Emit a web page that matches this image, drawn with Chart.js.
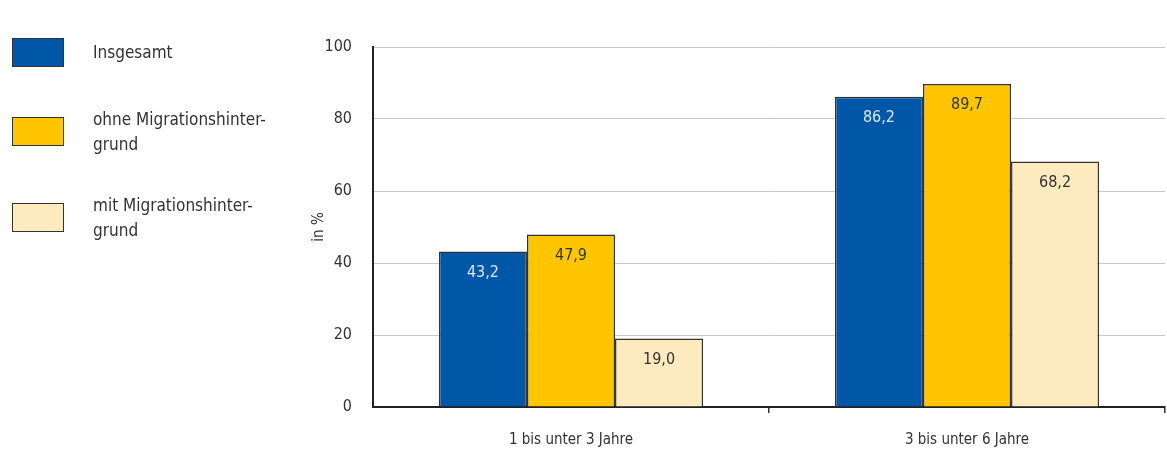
<!DOCTYPE html>
<html lang="de">
<head>
<meta charset="utf-8">
<script src="https://cdn.jsdelivr.net/npm/chart.js@4"></script>
<style>
  html, body { margin: 0; padding: 0; background: #fff; }
  body { width: 1167px; height: 450px; position: relative; overflow: hidden;
         font-family: 'Liberation Sans Narrow', 'DejaVu Sans Condensed', sans-serif; color: #333; }
  #chartWrap { position: absolute; left: 0; top: 0; width: 1167px; height: 450px; }
  .legend { position: absolute; left: 12px; }
  .legend .sw { position: absolute; left: 0; width: 52px; height: 29px; border: 1.5px solid #333; box-sizing: border-box; }
  .legend .txt { position: absolute; left: 81px; font-size: 17px; line-height: 25px; white-space: nowrap; }
</style>
</head>
<body>
<div id="chartWrap"><canvas id="chart" width="1167" height="450"></canvas></div>
<div id="legend"></div>
<script>
const categories = ['1 bis unter 3 Jahre', '3 bis unter 6 Jahre'];
const seriesNames = [['Insgesamt'], ['ohne Migrationshinter-', 'grund'], ['mit Migrationshinter-', 'grund']];
const insgesamt = [43.2, 86.2];
const ohneMigration = [47.9, 89.7];
const mitMigration = [19.0, 68.2];
const yTicks = [0, 20, 40, 60, 80, 100];

const colors = ['#0057a8', '#ffc600', '#fdebbf'];
const labelColors = ['#dbe8f6', '#333333', '#333333'];
const FONT = "'Liberation Sans Narrow', 'DejaVu Sans Condensed', sans-serif";

// legend on the left
const legendTops = [38, 117, 203];
const legendEl = document.getElementById('legend');
seriesNames.forEach((lines, i) => {
    const box = document.createElement('div');
    box.className = 'legend';
    box.style.top = legendTops[i] + 'px';
    box.innerHTML = '<div class="sw" style="background:' + colors[i] + ';top:0"></div>' +
        '<div class="txt" style="top:' + (lines.length > 1 ? -10 : 2) + 'px">' + lines.join('<br>') + '</div>';
    legendEl.appendChild(box);
});

const valueLabels = {
    id: 'valueLabels',
    afterDatasetsDraw(chart) {
        const ctx = chart.ctx;
        ctx.save();
        ctx.font = '16px ' + FONT;
        ctx.textAlign = 'center';
        ctx.textBaseline = 'middle';
        chart.data.datasets.forEach((ds, i) => {
            chart.getDatasetMeta(i).data.forEach((bar, j) => {
                ctx.fillStyle = labelColors[i];
                ctx.fillText(ds.data[j].toFixed(1).replace('.', ','), bar.x, bar.y + 21);
            });
        });
        ctx.restore();
    }
};

new Chart(document.getElementById('chart'), {
    type: 'bar',
    data: {
        labels: categories,
        datasets: [
            { label: seriesNames[0].join(''), data: insgesamt },
            { label: seriesNames[1].join(''), data: ohneMigration },
            { label: seriesNames[2].join(''), data: mitMigration }
        ].map((ds, i) => Object.assign(ds, {
            backgroundColor: colors[i],
            borderColor: '#333',
            borderWidth: 1.5,
            borderSkipped: 'bottom',
            barPercentage: 1,
            categoryPercentage: 0.667
        }))
    },
    options: {
        responsive: false,
        animation: false,
        layout: { padding: { left: 290, top: 47, right: 2, bottom: 0 } },
        plugins: { legend: { display: false }, tooltip: { enabled: false } },
        scales: {
            x: {
                grid: {
                    drawOnChartArea: false, tickLength: 6, lineWidth: 1.5,
                    color: c => c.index === 0 ? 'rgba(0,0,0,0)' : '#333'
                },
                border: { color: '#222', width: 2 },
                ticks: { color: '#333', font: { family: FONT, size: 15 }, padding: 18 },
                afterFit(scale) { scale.height = 43; }
            },
            y: {
                min: 0, max: 100,
                afterBuildTicks(scale) { scale.ticks = yTicks.map(v => ({ value: v })); },
                grid: { color: '#c8c8c8', lineWidth: 1, drawTicks: false },
                border: { color: '#222', width: 2 },
                ticks: { color: '#333', font: { family: FONT, size: 16 }, padding: 21 },
                title: { display: true, text: 'in %', color: '#333', font: { family: FONT, size: 15 }, padding: { top: 20, bottom: 0 } },
                afterFit(scale) { scale.width = 83; }
            }
        }
    },
    plugins: [valueLabels]
});
</script>
</body>
</html>
